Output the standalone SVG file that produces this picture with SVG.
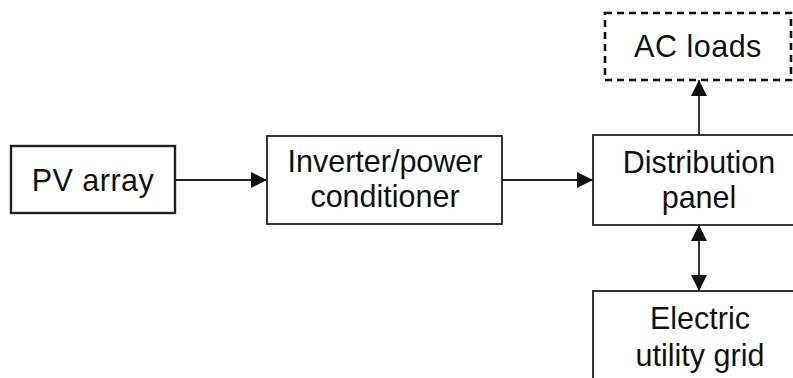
<svg xmlns="http://www.w3.org/2000/svg" width="793" height="378" viewBox="0 0 793 378">
  <defs>
    <marker id="arrow" viewBox="0 0 16 16" refX="16" refY="8" markerWidth="16" markerHeight="16" markerUnits="userSpaceOnUse" orient="auto-start-reverse">
      <path d="M0,0 L16,8 L0,16 Z" fill="#111"/>
    </marker>
    <style>
      .box { fill: #fff; stroke: #222; stroke-width: 1.8; }
      .dashed { fill: #fff; stroke: #111; stroke-width: 2.6; stroke-dasharray: 7 5; }
      .lbl { font-family: "Liberation Sans", Arial, sans-serif; font-size: 30.5px; fill: #111; text-anchor: middle; }
      .wire { stroke: #222; stroke-width: 1.8; fill: none; }
    </style>
  </defs>
  <rect width="793" height="378" fill="#fff"/>

  <g id="connectors">
    <line class="wire" x1="175" y1="180" x2="267" y2="180" marker-end="url(#arrow)"/>
    <line class="wire" x1="502" y1="180" x2="593" y2="180" marker-end="url(#arrow)"/>
    <line class="wire" x1="699" y1="135" x2="699" y2="80" marker-end="url(#arrow)"/>
    <line class="wire" x1="699" y1="225" x2="699" y2="291" marker-start="url(#arrow)" marker-end="url(#arrow)"/>
  </g>

  <g id="pv-array">
    <rect class="box" x="11" y="146" width="164" height="67" style="stroke-width:2.4"/>
    <text class="lbl" x="93" y="191" letter-spacing="0.5">PV array</text>
  </g>

  <g id="inverter">
    <rect class="box" x="267" y="136" width="235" height="88"/>
    <text class="lbl" x="385" y="172">Inverter/power</text>
    <text class="lbl" x="385" y="207">conditioner</text>
  </g>

  <g id="distribution-panel">
    <rect class="box" x="593" y="135" width="210" height="90"/>
    <text class="lbl" x="699" y="173">Distribution</text>
    <text class="lbl" x="699" y="208">panel</text>
  </g>

  <g id="ac-loads">
    <rect class="dashed" x="605" y="13" width="186" height="67"/>
    <text class="lbl" x="698" y="57" letter-spacing="0.5">AC loads</text>
  </g>

  <g id="utility-grid">
    <rect class="box" x="593" y="291" width="210" height="100"/>
    <text class="lbl" x="700" y="329">Electric</text>
    <text class="lbl" x="700" y="366">utility grid</text>
  </g>
</svg>
